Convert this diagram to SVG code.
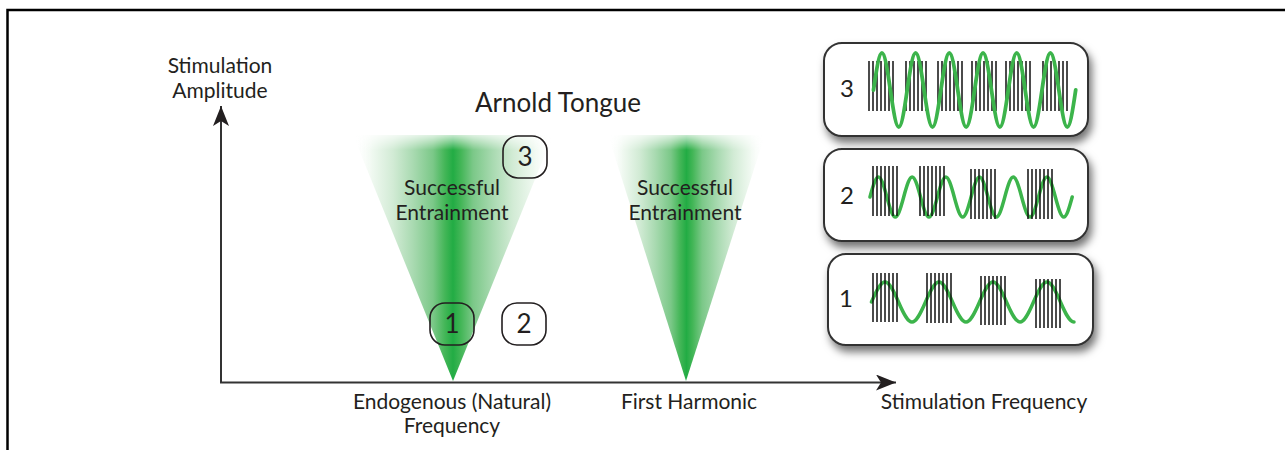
<svg xmlns="http://www.w3.org/2000/svg" width="1285" height="450" viewBox="0 0 1285 450">
<style>
text{font-family:Lato,"Open Sans","Liberation Sans",sans-serif;fill:#231f20;font-size:21px;text-anchor:middle}
.title{font-size:26px}
.num{font-size:26px}
.pnum{font-size:24px}
.badge{fill:none;stroke:#231f20;stroke-width:1.6}
.panel{fill:#fff;stroke:#333;stroke-width:2}
.bars{stroke:#111;stroke-width:1.5;fill:none}
.wave{stroke:#3cb44b;fill:none;stroke-linecap:round}
.axis{stroke:#333;stroke-width:2;fill:none}
</style>
<defs>
<linearGradient id="tg" x1="0" y1="0" x2="1" y2="0">
<stop offset="0" stop-color="#fff" stop-opacity="0"/>
<stop offset="0.1" stop-color="#eef8ef"/>
<stop offset="0.2" stop-color="#d2ebd5"/>
<stop offset="0.3" stop-color="#a9dab1"/>
<stop offset="0.4" stop-color="#7bc888"/>
<stop offset="0.46" stop-color="#43b657"/>
<stop offset="0.5" stop-color="#22ac44"/>
<stop offset="0.54" stop-color="#43b657"/>
<stop offset="0.6" stop-color="#7bc888"/>
<stop offset="0.7" stop-color="#a9dab1"/>
<stop offset="0.8" stop-color="#d2ebd5"/>
<stop offset="0.9" stop-color="#eef8ef"/>
<stop offset="1" stop-color="#fff" stop-opacity="0"/>
</linearGradient>
<linearGradient id="topfade" gradientUnits="userSpaceOnUse" x1="0" y1="134" x2="0" y2="150">
<stop offset="0" stop-color="#fff" stop-opacity="0.2"/>
<stop offset="1" stop-color="#fff" stop-opacity="1"/>
</linearGradient>
<mask id="tm" maskUnits="userSpaceOnUse" x="0" y="0" width="1285" height="450">
<rect x="300" y="100" width="520" height="300" fill="url(#topfade)"/>
</mask>
<filter id="sh" x="-10%" y="-20%" width="130%" height="160%">
<feDropShadow dx="3" dy="6" stdDeviation="4" flood-color="#000" flood-opacity="0.55"/>
</filter>
<marker id="ah" markerUnits="userSpaceOnUse" markerWidth="24" markerHeight="18" refX="20" refY="8" orient="auto">
<path d="M0,0 L20,8 L0,16 L5,8 Z" fill="#231f20"/>
</marker>
</defs>

<rect width="1285" height="450" fill="#fff"/>
<path d="M7.5,450 V10 H1285" fill="none" stroke="#000" stroke-width="2.5"/>

<g id="tongue-left">
<polygon points="353,135 553,135 453,381" fill="url(#tg)" mask="url(#tm)"/>
<text x="452" y="195">Successful</text>
<text x="452" y="220">Entrainment</text>
</g>
<g id="tongue-right">
<polygon points="608,135 765,135 686,381" fill="url(#tg)" mask="url(#tm)"/>
<text x="685" y="195">Successful</text>
<text x="685" y="220">Entrainment</text>
</g>

<g id="title"><text class="title" x="558" y="112">Arnold Tongue</text></g>

<g id="badge-3"><rect class="badge" x="503" y="136" width="44" height="42" rx="15"/><text class="num" x="525" y="166">3</text></g>
<g id="badge-1"><rect class="badge" x="430" y="303" width="44" height="42" rx="15"/><text class="num" x="452" y="333">1</text></g>
<g id="badge-2"><rect class="badge" x="502" y="303" width="44" height="42" rx="15"/><text class="num" x="524" y="333">2</text></g>

<g id="connectors">
<path class="axis" d="M221,383 V106" marker-end="url(#ah)"/>
<path class="axis" d="M220,382.5 H896" marker-end="url(#ah)"/>
</g>

<g id="labels">
<text x="220" y="73">Stimulation</text>
<text x="220" y="98">Amplitude</text>
<text x="452" y="409">Endogenous (Natural)</text>
<text x="452" y="433">Frequency</text>
<text x="689" y="409">First Harmonic</text>
<text x="984" y="409">Stimulation Frequency</text>
</g>

<g id="panel-3">
<rect class="panel" x="824" y="43" width="264" height="93" rx="18" filter="url(#sh)"/>
<text class="pnum" x="847" y="97">3</text>
<path class="bars" d="M869 61v50M873 61v50M877 61v50M881 61v50M885 61v50M889 61v50M893 61v50M906 61v50M910 61v50M914 61v50M918 61v50M922 61v50M926 61v50M938 61v50M942 61v50M946 61v50M950 61v50M954 61v50M958 61v50M962 61v50M972 61v50M976 61v50M980 61v50M984 61v50M988 61v50M992 61v50M996 61v50M1006 61v50M1010 61v50M1014 61v50M1018 61v50M1022 61v50M1026 61v50M1030 61v50M1043 61v50M1047 61v50M1051 61v50M1055 61v50M1059 61v50M1063 61v50M1067 61v50"/>
<path class="wave" stroke-width="3.8" d="M873.5,90 c7.15,-49.33 9.7,-49.33 16.85,0 s9.7,49.33 16.85,0 s9.7,-49.33 16.85,0 s9.7,49.33 16.85,0 s9.7,-49.33 16.85,0 s9.7,49.33 16.85,0 s9.7,-49.33 16.85,0 s9.7,49.33 16.85,0 s9.7,-49.33 16.85,0 s9.7,49.33 16.85,0 s9.7,-49.33 16.85,0 s9.7,49.33 16.85,0"/>
</g>

<g id="panel-2">
<rect class="panel" x="824" y="149" width="264" height="92" rx="18" filter="url(#sh)"/>
<text class="pnum" x="847" y="204">2</text>
<path class="wave" stroke-width="3.5" d="M870,197 c7.15,-26.67 9.7,-26.67 16.85,0 s9.7,26.67 16.85,0 s9.7,-26.67 16.85,0 s9.7,26.67 16.85,0 s9.7,-26.67 16.85,0 s9.7,26.67 16.85,0 s9.7,-26.67 16.85,0 s9.7,26.67 16.85,0 s9.7,-26.67 16.85,0 s9.7,26.67 16.85,0 s9.7,-26.67 16.85,0 s9.7,26.67 16.85,0"/>
<path class="bars" d="M873 166v50M877 166v50M881 166v50M885 166v50M889 166v50M893 166v50M897 166v50M920 166v50M924 166v50M928 166v50M932 166v50M936 166v50M940 166v50M944 166v50M971 169v50M975 169v50M979 169v50M983 169v50M987 169v50M991 169v50M995 169v50M1028 169v50M1032 169v50M1036 169v50M1040 169v50M1044 169v50M1048 169v50M1052 169v50"/>
</g>

<g id="panel-1">
<rect class="panel" x="828" y="254" width="265" height="91" rx="18" filter="url(#sh)"/>
<text class="pnum" x="846" y="307">1</text>
<path class="wave" stroke-width="3.5" d="M871.5,302 c11.46,-26.67 15.54,-26.67 27,0 s15.54,26.67 27,0 s15.54,-26.67 27,0 s15.54,26.67 27,0 s15.54,-26.67 27,0 s15.54,26.67 27,0 s15.54,-26.67 27,0 c4.51,10.5 8.64,20 13.5,20"/>
<path class="bars" d="M873 273v49M877 273v49M881 273v49M885 273v49M889 273v49M893 273v49M897 273v49M927 273v50M931 273v50M935 273v50M939 273v50M943 273v50M947 273v50M951 273v50M981 276v49M985 276v49M989 276v49M993 276v49M997 276v49M1001 276v49M1005 276v49M1036 279v49M1040 279v49M1044 279v49M1048 279v49M1052 279v49M1056 279v49M1060 279v49"/>
</g>
</svg>
